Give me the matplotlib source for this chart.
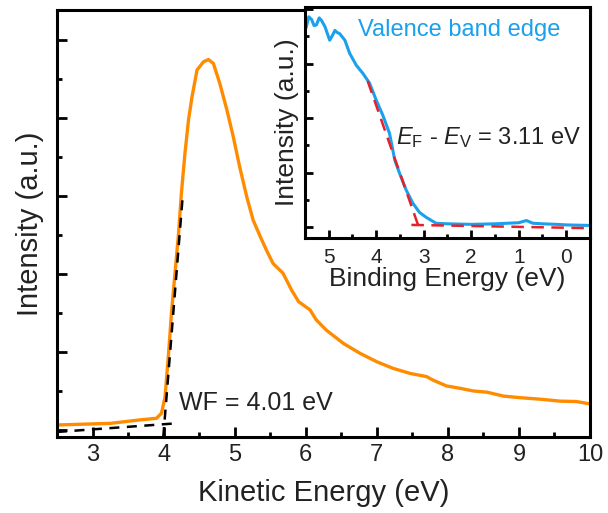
import matplotlib
matplotlib.use("Agg")
import matplotlib.pyplot as plt
from matplotlib.ticker import MultipleLocator, NullFormatter

plt.rcParams["font.family"] = ["Liberation Sans", "DejaVu Sans"]
plt.rcParams["mathtext.fontset"] = "custom"
plt.rcParams["mathtext.rm"] = "Liberation Sans"
plt.rcParams["mathtext.it"] = "Liberation Sans:italic"

# secondary electron cutoff spectrum (kinetic energy, eV / intensity, a.u.)
ke = [2.52, 3.25, 3.67, 3.90, 3.97, 4.02, 4.07, 4.11, 4.16, 4.21, 4.25, 4.30,
      4.35, 4.40, 4.47, 4.56, 4.63, 4.70, 4.79, 4.89, 4.98, 5.07, 5.17, 5.26,
      5.36, 5.45, 5.54, 5.68, 5.80, 5.90, 6.06, 6.15, 6.29, 6.53, 6.76, 7.00,
      7.23, 7.47, 7.70, 7.79, 7.98, 8.17, 8.36, 8.55, 8.78, 9.01, 9.30, 9.58,
      9.81, 10.0]
ke_int = [0.13, 0.17, 0.26, 0.30, 0.43, 0.85, 1.97, 2.99, 4.02, 5.04, 6.07, 7.09,
          7.95, 8.55, 9.23, 9.44, 9.50, 9.40, 8.89, 8.21, 7.52, 6.75, 5.98, 5.38,
          4.96, 4.60, 4.27, 4.02, 3.59, 3.29, 3.08, 2.82, 2.56, 2.22, 1.97, 1.75,
          1.58, 1.45, 1.37, 1.28, 1.13, 1.07, 1.00, 0.97, 0.87, 0.83, 0.79, 0.74,
          0.73, 0.67]

# cutoff fit lines
wf_base_x = [2.5, 4.17]
wf_base_y = [-0.05, 0.17]
wf_edge_x = [3.995, 4.27]
wf_edge_y = [-0.18, 6.03]

# valence band spectrum (binding energy, eV / intensity, a.u.)
be = [5.47, 5.42, 5.36, 5.31, 5.26, 5.20, 5.15, 5.08, 4.98, 4.92, 4.87, 4.82,
      4.77, 4.66, 4.56, 4.42, 4.28, 4.14, 4.00, 3.86, 3.72, 3.61, 3.51, 3.37,
      3.23, 3.09, 2.95, 2.74, 2.50, 2.00, 1.50, 1.00, 0.84, 0.70, 0.50, 0.20,
      0.00, -0.50]
be_int = [3.68, 3.86, 3.81, 3.70, 3.71, 3.84, 3.79, 3.68, 3.43, 3.52, 3.61, 3.57,
          3.55, 3.43, 3.19, 2.97, 2.82, 2.64, 2.33, 2.05, 1.72, 1.23, 0.99, 0.68,
          0.44, 0.27, 0.18, 0.07, 0.06, 0.05, 0.06, 0.08, 0.12, 0.07, 0.06, 0.05,
          0.04, 0.03]

vb_edge_x = [4.18, 3.12]
vb_edge_y = [2.68, 0.04]
vb_base_x = [3.26, -0.5]
vb_base_y = [0.04, -0.02]

ink = "#222222"
orange = "#FF8C00"
blue = "#1AA0EC"
red = "#E8202A"

fig = plt.figure(figsize=(6.08, 5.13), dpi=100)

# main panel
ax = fig.add_axes([0.0938, 0.1481, 0.8766, 0.8324])
ax.plot(ke, ke_int, color=orange, lw=2.4, zorder=2)
ax.plot(wf_base_x, wf_base_y, color="black", lw=1.8, ls=(0, (4, 3)), zorder=3)
ax.plot(wf_edge_x, wf_edge_y, color="black", lw=1.8, ls=(0, (4, 3)), zorder=3)
ax.text(4.22, 0.69, "WF = 4.01 eV", fontsize=18, color=ink, ha="left", va="center")

ax.set_xlim(2.5, 10)
ax.set_ylim(-0.18, 10.77)
ax.xaxis.set_major_locator(MultipleLocator(1))
ax.xaxis.set_minor_locator(MultipleLocator(0.5))
ax.yaxis.set_major_locator(MultipleLocator(2))
ax.yaxis.set_minor_locator(MultipleLocator(1))
ax.yaxis.set_major_formatter(NullFormatter())
ax.tick_params(which="both", direction="in", width=2, colors="black",
               labelcolor=ink, labelsize=17, pad=5)
ax.tick_params(which="major", length=7)
ax.tick_params(which="minor", length=3.5)
for s in ax.spines.values():
    s.set_linewidth(2.2)
ax.set_xlabel("Kinetic Energy (eV)", fontsize=21, color=ink)
ax.set_ylabel("Intensity (a.u.)", fontsize=21, color=ink)
ax.xaxis.set_label_coords(0.5, -0.098)
ax.yaxis.set_label_coords(-0.024, 0.5)

# inset: valence band edge
ins = fig.add_axes([0.5016, 0.5361, 0.4688, 0.4503])
ins.plot(be, be_int, color=blue, lw=2.2, zorder=2)
ins.plot(vb_edge_x, vb_edge_y, color=red, lw=1.8, ls=(0, (5, 3)), zorder=3)
ins.plot(vb_base_x, vb_base_y, color=red, lw=1.8, ls=(0, (5, 3)), zorder=3)
ins.text(4.39, 3.61, "Valence band edge", fontsize=17, color=blue,
         ha="left", va="center")
ins.text(3.59, 1.65, r"$E_{\mathrm{F}}$ - $E_{\mathrm{V}}$ = 3.11 eV",
         fontsize=17, color=ink, ha="left", va="center")

ins.set_xlim(5.5, -0.5)
ins.set_ylim(-0.2, 4.04)
ins.xaxis.set_major_locator(MultipleLocator(1))
ins.xaxis.set_minor_locator(MultipleLocator(0.5))
ins.yaxis.set_major_locator(MultipleLocator(1))
ins.yaxis.set_minor_locator(MultipleLocator(0.5))
ins.yaxis.set_major_formatter(NullFormatter())
ins.tick_params(which="both", direction="in", width=2, colors="black",
                labelcolor=ink, labelsize=15, pad=7)
ins.tick_params(which="major", length=6)
ins.tick_params(which="minor", length=3)
for s in ins.spines.values():
    s.set_linewidth(2.2)
ins.set_xlabel("Binding Energy (eV)", fontsize=19, color=ink)
ins.set_ylabel("Intensity (a.u.)", fontsize=19, color=ink)
ins.xaxis.set_label_coords(0.5, -0.125)
ins.yaxis.set_label_coords(-0.021, 0.5)

fig.savefig("out.png", dpi=100)
